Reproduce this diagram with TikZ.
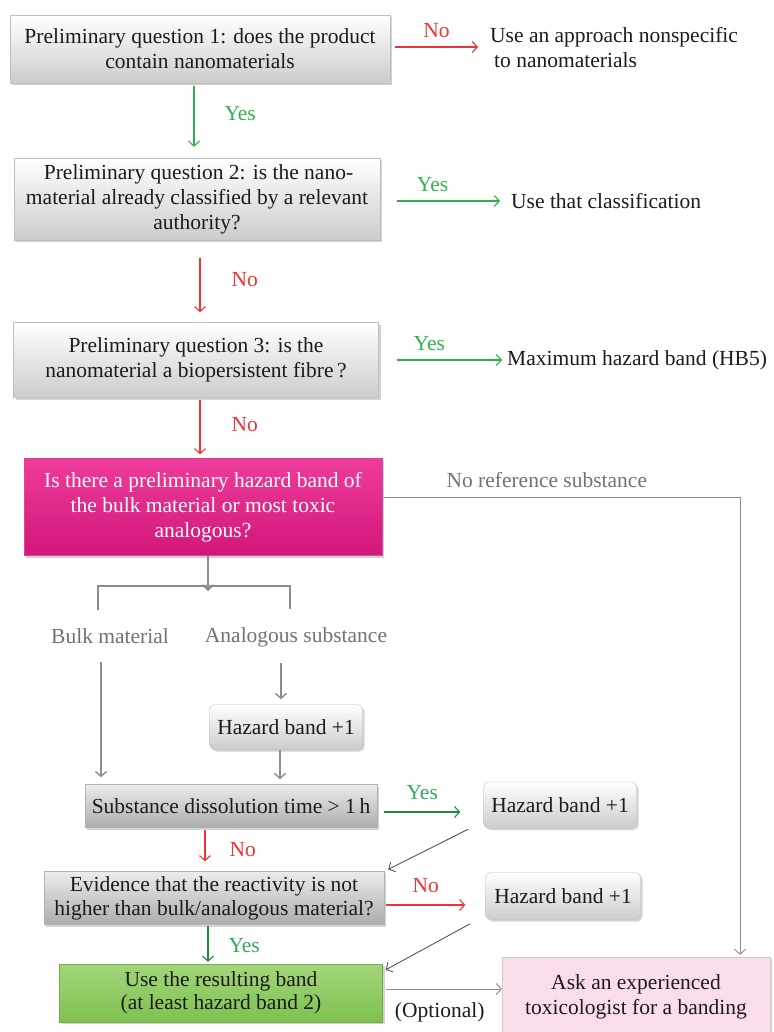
\documentclass[tikz,border=0pt]{standalone}
\usepackage{fontspec}
\setmainfont{Liberation Serif}
\usetikzlibrary{arrows.meta,shadows,calc}
\definecolor{txt}{HTML}{1E1A1B}
\definecolor{myred}{HTML}{EE3535}
\definecolor{mygreen}{HTML}{2DB34A}
\definecolor{dkgreen}{HTML}{1E8A3C}
\definecolor{lblgreen}{HTML}{35A85A}
\definecolor{conn}{HTML}{8C8C8C}
\definecolor{dconn}{HTML}{555555}
\definecolor{lbl}{HTML}{77716B}
\definecolor{pinktop}{HTML}{EE3C9A}
\definecolor{pinkbot}{HTML}{D2177A}
\definecolor{greentop}{HTML}{A3D67A}
\definecolor{greenbot}{HTML}{7DC150}
\definecolor{lpink}{HTML}{FADDEB}
\begin{document}
\begin{tikzpicture}[x=1pt,y=-1pt,
  font=\fontsize{21.5}{25}\selectfont,
  every node/.style={text=txt},
  shad/.style={drop shadow={opacity=0.35,shadow xshift=2pt,shadow yshift=-2pt}},
  graybox/.style={draw=gray!50,top color=white,bottom color=gray!40,shad,align=center,inner sep=0pt},
  darkbox/.style={draw=gray!60,top color=gray!15,bottom color=gray!65,shad,align=center,inner sep=0pt},
  hbox/.style={graybox,rounded corners=5pt},
  plain/.style={inner sep=0pt,align=left},
  lab/.style={inner sep=0pt},
  arr/.style={-{Straight Barb[length=5pt,width=11pt]},line width=1.1pt},
  redarr/.style={arr,draw=myred},
  grarr/.style={arr,draw=mygreen},
  dgarr/.style={arr,draw=dkgreen},
  cgarr/.style={arr,draw=conn},
  dcarr/.style={-{Straight Barb[length=5pt,width=11pt]},line width=0.9pt,draw=dconn}]
\useasboundingbox (0,0) rectangle (773,1032);

% main boxes
\node[graybox,minimum width=380pt,minimum height=68pt] (b1) at (200,49)
  {Preliminary question 1: does the product\\contain nanomaterials};
\node[graybox,minimum width=366pt,minimum height=82pt] (b2) at (197,199)
  {\hspace*{3pt}Preliminary question 2: is the nano-\\material already classified by a relevant\\authority?};
\node[graybox,minimum width=365pt,minimum height=75pt] (b3) at (196,360)
  {Preliminary question 3: is the\\nanomaterial a biopersistent fibre\,?};
\node[draw=pinkbot!80,top color=pinktop,bottom color=pinkbot,shad,align=center,inner sep=0pt,
  minimum width=358pt,minimum height=97pt,text=white] (pink) at (203,507)
  {Is there a preliminary hazard band of\\the bulk material or most toxic\\analogous?};

% right-hand texts
\node[plain,anchor=west] (t1) at (490,48) {Use an approach nonspecific\\\hspace*{4pt}to nanomaterials};
\node[plain,anchor=west] (t2) at (511,201) {Use that classification};
\node[plain,anchor=west] (t3) at (507,360) {Maximum hazard band (HB5)};

% lower part
\node[lab,text=lbl] (bulk) at (110,636) {Bulk material};
\node[lab,text=lbl] (analog) at (296,637) {Analogous substance};
\node[hbox,minimum width=153pt,minimum height=45pt] (hb1) at (286,727) {Hazard band +1};
\node[darkbox,minimum width=292pt,minimum height=43pt] (sub) at (231,806) {Substance dissolution time > 1\,h};
\node[hbox,minimum width=153pt,minimum height=46pt] (hb2) at (560,805) {Hazard band +1};
\node[darkbox,minimum width=340pt,minimum height=53pt,font=\fontsize{21.5}{24}\selectfont] (ev) at (214,898)
  {Evidence that the reactivity is not\\higher than bulk/analogous material?};
\node[hbox,minimum width=155pt,minimum height=47pt] (hb3) at (563,896) {Hazard band +1};
\node[draw=greenbot!90!black,top color=greentop,bottom color=greenbot,shad,align=center,inner sep=0pt,
  minimum width=323pt,minimum height=58pt,font=\fontsize{21.5}{23}\selectfont] (green) at (221,993)
  {Use the resulting band\\(at least hazard band 2)};
\node[draw=gray!40,fill=lpink,shad,align=center,inner sep=0pt,
  minimum width=268pt,minimum height=76pt,text depth=0pt,font=\fontsize{21.5}{25}\selectfont] (ask) at (636,995)
  {Ask an experienced\\toxicologist for a banding};

% connectors, top part
\draw[redarr] ([xshift=5pt,yshift=2pt]b1.east) -- ([xshift=-12pt,yshift=1pt]t1.west)
  node[lab,midway,above=9pt,text=myred]{No};
\draw[grarr] ([xshift=-6pt,yshift=-3pt]b1.south) -- ([xshift=-3pt,yshift=11pt]b2.north)
  node[lab,pos=0.45,right=30pt,text=mygreen]{Yes};
\draw[grarr] ($(b2.east)+(17,2)$) -- ($(t2.west)+(-11,0)$)
  node[lab,midway,above=9pt,xshift=-16pt,text=mygreen]{Yes};
\draw[redarr] ([xshift=3pt,yshift=-18pt]b2.south) -- ([xshift=4pt,yshift=10pt]b3.north)
  node[lab,pos=0.4,right=31pt,text=myred]{No};
\draw[grarr] ([xshift=18pt]b3.east) -- ([xshift=-5pt]t3.west)
  node[lab,midway,above=9pt,xshift=-20pt,text=mygreen]{Yes};
\draw[redarr] ([xshift=4pt,yshift=-2pt]b3.south) -- ([xshift=-3pt,yshift=4pt]pink.north)
  node[lab,pos=0.45,right=31pt,text=myred]{No};

% no reference substance
\draw[cgarr,line width=0.9pt] ([yshift=10pt]pink.east) -| ([xshift=104pt,yshift=2pt]ask.north)
  node[lab,pos=0.23,above=9pt,text=lbl]{No reference substance};

% bracket
\coordinate (brT) at (208,594);
\draw[cgarr,line width=1.6pt] ([xshift=5pt]pink.south) -- ([yshift=3pt]brT);
\draw[conn,line width=2pt] ($(bulk.north)+(-12,-18)$) -- ($(bulk.north)+(-12,-42)$) -| ($(analog.north)+(-6,-18)$);

\draw[cgarr,line width=1.4pt] ($(bulk.south)+(-9,18)$) -- ($(bulk.south |- sub.north)+(-9,-7)$);
\draw[cgarr,line width=1.4pt] ($(hb1.north)+(-5,-41)$) -- ($(hb1.north)+(-5,-5)$);
\draw[cgarr,line width=1.4pt] ([xshift=-6pt]hb1.south) -- ($(hb1.south |- sub.north)+(-6,-5)$);

% lower connectors
\draw[dgarr] ([xshift=7pt,yshift=-6pt]sub.east) -- ([xshift=-23pt,yshift=-7pt]hb2.west)
  node[lab,midway,above=12pt,text=lblgreen]{Yes};
\draw[dcarr] ([xshift=-15pt,yshift=-1pt]hb2.south west) -- ([xshift=4pt,yshift=2pt]ev.north east);
\draw[redarr] ([xshift=-26pt,yshift=-2pt]sub.south) -- ($(sub.south |- ev.north)+(-26,-10)$)
  node[lab,midway,right=24pt,yshift=-4pt,text=myred]{No};
\draw[redarr] ([xshift=2pt,yshift=-7pt]ev.east) -- ([xshift=-20pt,yshift=-9pt]hb3.west)
  node[lab,midway,above=12pt,text=myred]{No};
\draw[dcarr] ([xshift=-15pt,yshift=-4pt]hb3.south west) -- ([xshift=3pt,yshift=-6pt]green.north east);
\draw[dgarr] ([xshift=-6pt,yshift=-1pt]ev.south) -- ([xshift=-13pt,yshift=2pt]green.north)
  node[lab,midway,right=20pt,yshift=-2pt,text=lblgreen]{Yes};
\draw[cgarr,line width=1pt] ([xshift=3pt,yshift=4pt]green.east) -- ([yshift=6pt]ask.west)
  node[lab,midway,below=13pt,xshift=-4pt,text=txt]{(Optional)};
\end{tikzpicture}
\end{document}
